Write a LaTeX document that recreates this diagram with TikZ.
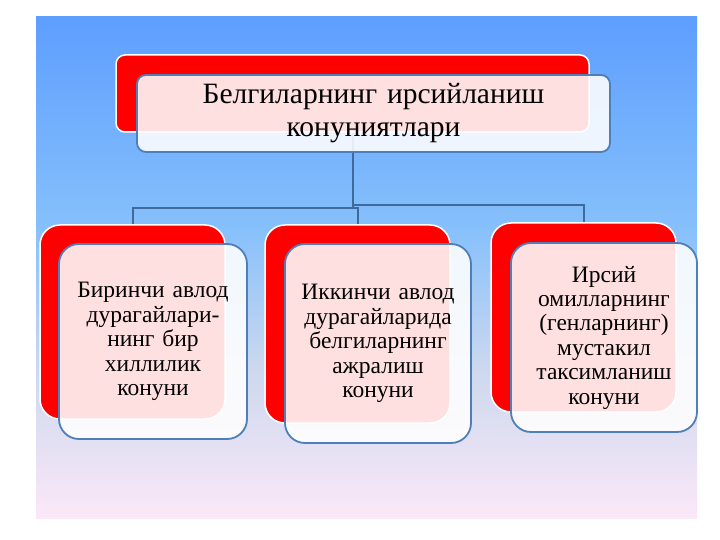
\documentclass[tikz,border=0pt]{standalone}
\usepackage{fontspec}
\setmainfont{Liberation Serif}
\definecolor{bgtop}{HTML}{5E9EFF}
\definecolor{bgmid}{HTML}{86C0FB}
\definecolor{bglow}{HTML}{CCD8EE}
\definecolor{bgbot}{HTML}{FBE8F8}
\definecolor{edgeblue}{HTML}{4F7FB8}
\definecolor{linkblue}{HTML}{3F6A9E}
\pgfdeclareverticalshading{bgshade}{100bp}{color(0bp)=(bgbot); color(25bp)=(bgbot); color(40bp)=(bglow); color(54bp)=(bgmid); color(75bp)=(bgtop); color(100bp)=(bgtop)}
\tikzset{
  redbox/.style={draw=white, line width=1.5pt, fill=red, rounded corners=#1},
  frontbox/.style={draw=edgeblue, line width=1.8pt, fill=white, fill opacity=0.88, text opacity=1, rounded corners=#1, align=center, inner sep=2pt},
  link/.style={draw=linkblue, line width=2pt},
  toptext/.style={font=\fontsize{29.5}{33}\selectfont},
  subtext/.style={font=\fontsize{23.5}{24.4}\selectfont}
}
\begin{document}
\begin{tikzpicture}[x=1pt,y=-1pt]
\useasboundingbox (0,0) rectangle (720,540);
\fill[white] (0,0) rectangle (720,540);
\shade[shading=bgshade] (36,17) rectangle (697,518);
% back red boxes
\node[redbox=9pt, minimum width=473pt, minimum height=77pt] (tr) at (352.5,93.5) {};
\node[redbox=20pt, minimum width=185pt, minimum height=194pt] (b1) at (132.5,322) {};
\node[redbox=20pt, minimum width=185pt, minimum height=198pt] (b2) at (357.5,324) {};
\node[redbox=20pt, minimum width=185pt, minimum height=189pt] (b3) at (583.5,317.5) {};
% connectors from red box centres
\coordinate (jl) at (352.5,208);
\coordinate (jr) at (352.5,205.5);
\draw[link] (tr.south) -- (jl) -| (b1.north);
\draw[link] (jl) -| (b2.north);
\draw[link] (jr) -| (b3.north);
% front boxes
\node[frontbox=9pt, toptext, minimum width=473pt, minimum height=77pt, text width=460pt] (tf) at (373.5,113.5) {Белгиларнинг ирсийланиш\\конуниятлари};
\node[frontbox=20pt, subtext, minimum width=188pt, minimum height=195pt, text width=182pt] (f1) at (153,341.5) {Биринчи авлод\\дурагайлари-\\нинг бир\\хиллилик\\конуни};
\node[frontbox=20pt, subtext, minimum width=186pt, minimum height=199pt, text width=182pt] (f2) at (378,343.5) {Иккинчи авлод\\дурагайларида\\белгиларнинг\\ажралиш\\конуни};
\node[frontbox=20pt, subtext, minimum width=186pt, minimum height=189pt, text width=182pt] (f3) at (604,337.5) {Ирсий\\омилларнинг\\(генларнинг)\\мустакил\\таксимланиш\\конуни};
\end{tikzpicture}
\end{document}
